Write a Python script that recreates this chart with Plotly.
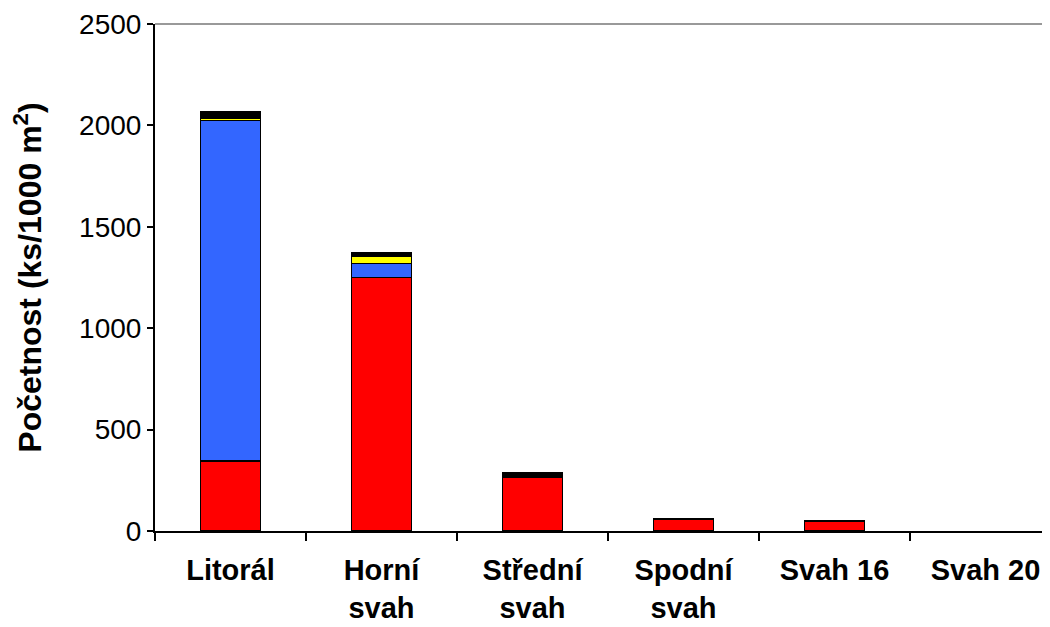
import plotly.graph_objects as go

categories = ["Litorál", "Horní<br>svah", "Střední<br>svah", "Spodní<br>svah", "Svah 16", "Svah 20"]
red_vals = [345, 1250, 265, 60, 50, 0]
blue_vals = [1680, 68, 0, 0, 0, 0]
yellow_vals = [12, 38, 0, 0, 0, 0]
black_vals = [32, 15, 20, 0, 0, 0]

series = [
    ("Série 1", red_vals, "#FF0000"),
    ("Série 2", blue_vals, "#3366FF"),
    ("Série 3", yellow_vals, "#FFFF00"),
    ("Série 4", black_vals, "#000000"),
]

fig = go.Figure()
for name, vals, col in series:
    fig.add_trace(go.Bar(
        x=categories, y=vals, name=name,
        marker=dict(color=col,
                    line=dict(color="#000000", width=[1.5 if v > 0 else 0 for v in vals])),
    ))

font = "Liberation Sans, Arial, sans-serif"
fig.update_layout(
    barmode="stack",
    bargap=0.6,
    width=1050, height=627,
    margin=dict(l=147, r=8, t=16, b=104),
    plot_bgcolor="white", paper_bgcolor="white",
    showlegend=False,
    font=dict(family=font, size=28, color="#000000"),
    xaxis=dict(
        type="category",
        range=[-0.5, 5.427],
        tickson="boundaries",
        ticks="outside", ticklen=8, tickwidth=2, tickcolor="#000000",
        showline=True, linecolor="#000000", linewidth=2,
        tickfont=dict(family=font, size=29, color="#000000", weight="bold"),
        ticklabelstandoff=12,
        showgrid=False,
        automargin=False,
    ),
    yaxis=dict(
        range=[0, 2500],
        tick0=0, dtick=500,
        ticks="outside", ticklen=6, tickwidth=2, tickcolor="#000000",
        showline=True, linecolor="#000000", linewidth=2,
        tickfont=dict(family=font, size=28, color="#000000"),
        showgrid=False, zeroline=False,
        automargin=False,
        title=dict(text="<b>Početnost (ks/1000 m<sup>2</sup>)</b>",
                   font=dict(family=font, size=32, color="#000000"), standoff=31),
    ),
    shapes=[dict(type="line", xref="paper", yref="paper", x0=0, x1=1, y0=1, y1=1,
                 line=dict(color="#999999", width=2))],
)

fig.write_html("out.html")
